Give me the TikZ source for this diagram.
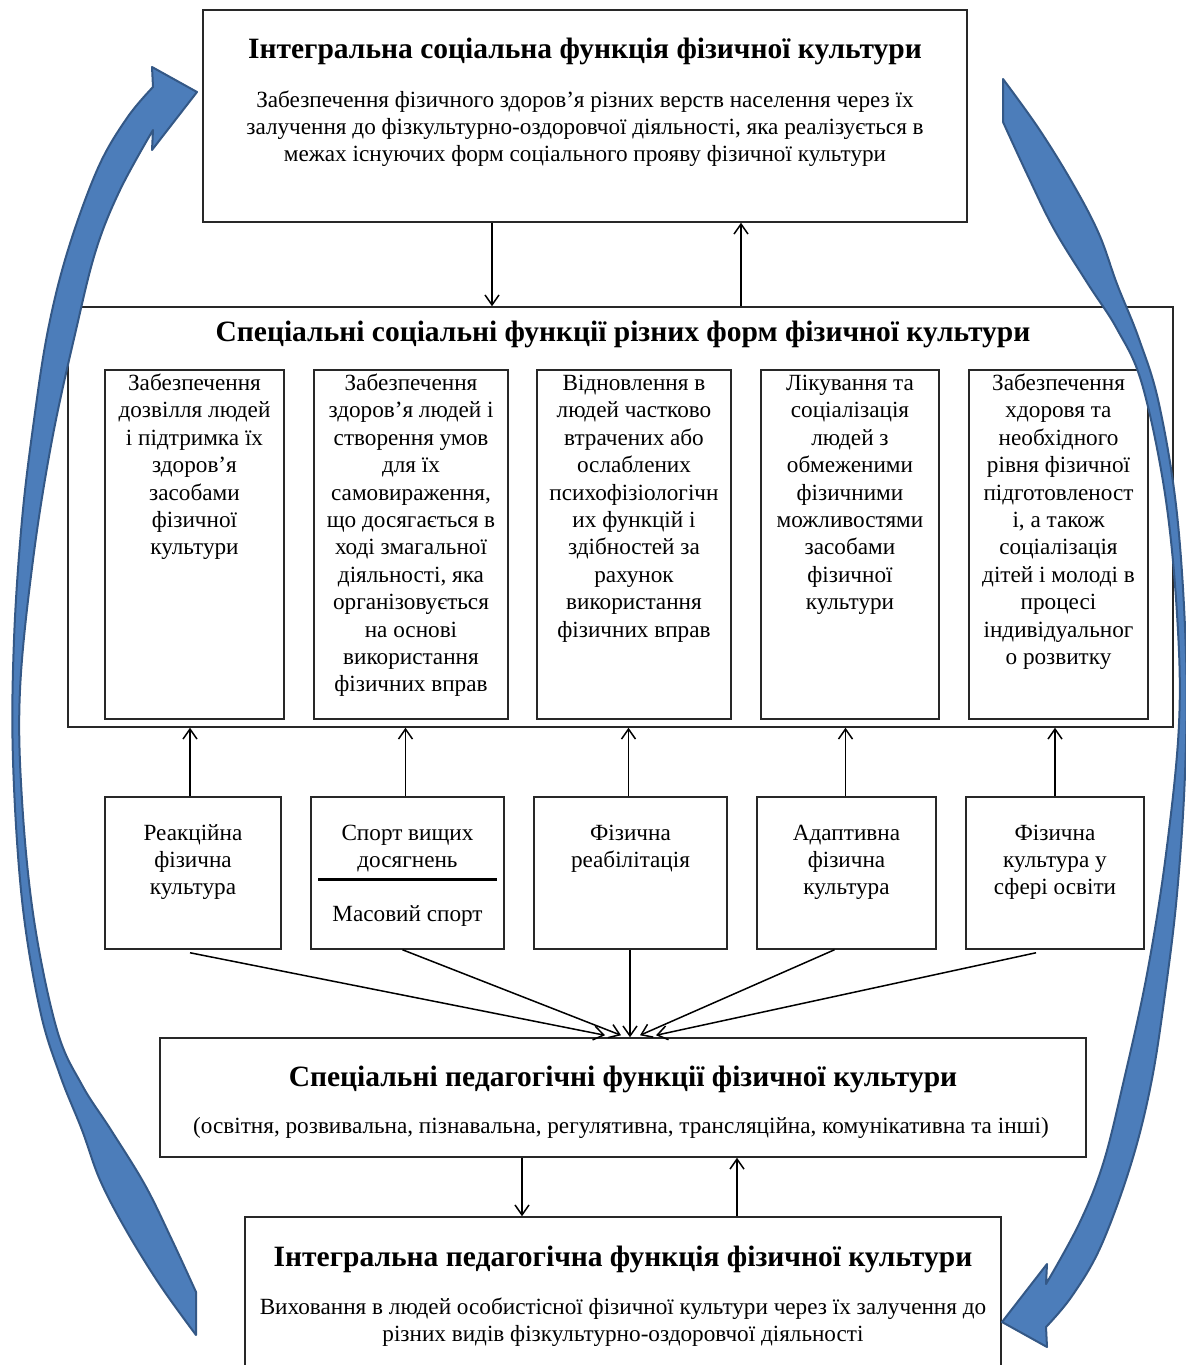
\documentclass[tikz,border=0pt]{standalone}
\usepackage{fontspec}
\setmainfont{Liberation Serif}
\usetikzlibrary{arrows.meta,calc}
\definecolor{arrfill}{RGB}{76,125,186}
\definecolor{arredge}{RGB}{52,88,134}
\definecolor{boxline}{RGB}{40,40,40}
\newcommand\CurvArrowShape{%
  plot[smooth,tension=0.6] coordinates {(196,1335) (160,1285) (126,1230) (100,1180) (82,1130) (60,1075) (40,1010) (22,900) (13,760) (14,640) (22,520) (34,420) (48,330) (68,250) (98,168) (127,118) (153,87)}
  -- (152,67) -- (197,92) -- (152,150) --
  plot[smooth,tension=0.6] coordinates {(153,130) (120,190) (96,250) (76,330) (52,440) (33,560) (20,690) (22,800) (34,920) (57,1030) (82,1085) (111,1130) (145,1185) (172,1240) (196,1292)}
  -- cycle}
\begin{document}
\begin{tikzpicture}[x=0.5pt,y=-0.5pt,
  box/.style={draw=boxline,line width=0.75pt,inner sep=0pt},
  txt/.style={font=\fontsize{11.6}{13.7}\selectfont,align=center,inner sep=0pt},
  ttl/.style={font=\fontsize{14.75}{17}\selectfont\bfseries,inner sep=0pt},
  arr/.style={draw=black,line width=0.75pt,-{Straight Barb[length=5pt,width=7pt]}},
  blue arrow/.style={fill=arrfill,draw=arredge,line width=1pt,line join=round}]
\useasboundingbox (0,0) rectangle (1186,1365);

% ---- top box
\node[box,minimum width=382pt,minimum height=106pt] (top) at (585,116) {};
\node[ttl,anchor=base] (toptitle) at (585,58) {Інтегральна соціальна функція фізичної культури};
\node[txt,anchor=north] (topbody) at (585,87.5) {\strut Забезпечення фізичного здоров’я різних верств населення через їх\\
залучення до фізкультурно-оздоровчої діяльності, яка реалізується в\\
межах існуючих форм соціального прояву фізичної культури};

% ---- middle big box
\node[box,minimum width=552.5pt,minimum height=210pt] (mid) at (620.5,517) {};
\node[ttl,anchor=base] (midtitle) at (623,341) {Спеціальні соціальні функції різних форм фізичної культури};

\node[box,minimum width=89.5pt,minimum height=174.5pt] (i1) at (194.5,544.5) {};
\node[box,minimum width=97pt,minimum height=174.5pt] (i2) at (411,544.5) {};
\node[box,minimum width=97pt,minimum height=174.5pt] (i3) at (634,544.5) {};
\node[box,minimum width=89pt,minimum height=174.5pt] (i4) at (850,544.5) {};
\node[box,minimum width=89.5pt,minimum height=174.5pt] (i5) at (1058.5,544.5) {};

\node[txt,anchor=north] (i1t) at (194.5,371) {\strut Забезпечення\\дозвілля людей\\і підтримка їх\\здоров’я\\засобами\\фізичної\\культури};
\node[txt,anchor=north] (i2t) at (411,371) {\strut Забезпечення\\здоров’я людей і\\створення умов\\для їх\\самовираження,\\що досягається в\\ході змагальної\\діяльності, яка\\організовується\\на основі\\використання\\фізичних вправ};
\node[txt,anchor=north] (i3t) at (634,371) {\strut Відновлення в\\людей частково\\втрачених або\\ослаблених\\психофізіологічн\\их функцій і\\здібностей за\\рахунок\\використання\\фізичних вправ};
\node[txt,anchor=north] (i4t) at (850,371) {\strut Лікування та\\соціалізація\\людей з\\обмеженими\\фізичними\\можливостями\\засобами\\фізичної\\культури};
\node[txt,anchor=north] (i5t) at (1058.5,371) {\strut Забезпечення\\хдоровя та\\необхідного\\рівня фізичної\\підготовленост\\і, а також\\соціалізація\\дітей і молоді в\\процесі\\індивідуальног\\о розвитку};

% ---- lower boxes
\node[box,minimum width=88pt,minimum height=76pt] (l1) at (193,873) {};
\node[box,minimum width=96.5pt,minimum height=76pt] (l2) at (407.5,873) {};
\node[box,minimum width=96.5pt,minimum height=76pt] (l3) at (630.5,873) {};
\node[box,minimum width=89.5pt,minimum height=76pt] (l4) at (846.5,873) {};
\node[box,minimum width=89pt,minimum height=76pt] (l5) at (1055,873) {};

\node[txt,anchor=north] (l1t) at (193,820.5) {\strut Реакційна\\фізична\\культура};
\node[txt,anchor=north] (l2t) at (407.5,820.5) {\strut Спорт вищих\\досягнень};
\node[txt,anchor=base] (l2b) at (407.5,921) {Масовий спорт};
\node[txt,anchor=north] (l3t) at (630.5,820.5) {\strut Фізична\\реабілітація};
\node[txt,anchor=north] (l4t) at (846.5,820.5) {\strut Адаптивна\\фізична\\культура};
\node[txt,anchor=north] (l5t) at (1055,820.5) {\strut Фізична\\культура у\\сфері освіти};
\draw[line width=1.5pt] ($(l2.west)+(8,6)$) -- ($(l2.east)+(-8,6)$);

% ---- pedagogical special box
\node[box,minimum width=463pt,minimum height=59.5pt] (ped) at (623,1097.5) {};
\node[ttl,anchor=base] (pedtitle) at (623,1086) {Спеціальні педагогічні функції фізичної культури};
\node[txt,anchor=base] (pedsub) at (621,1133) {(освітня, розвивальна, пізнавальна, регулятивна, трансляційна, комунікативна та інші)};

% ---- bottom box
\node[box,minimum width=378pt,minimum height=81.5pt] (bot) at (623,1298.5) {};
\node[ttl,anchor=base] (bottitle) at (623,1266) {Інтегральна педагогічна функція фізичної культури};
\node[txt,anchor=north] (botbody) at (623,1294.5) {\strut Виховання в людей особистісної фізичної культури через їх залучення до\\
різних видів фізкультурно-оздоровчої діяльності};

% ---- connectors
\coordinate (xa) at (492,0);
\coordinate (xb) at (741,0);
\coordinate (xc) at (522,0);
\coordinate (xd) at (737,0);
\draw[arr] (top.south -| xa) -- (mid.north -| xa);
\draw[arr] (mid.north -| xb) -- (top.south -| xb);
\draw[arr] (ped.south -| xc) -- (bot.north -| xc);
\draw[arr] (bot.north -| xd) -- (ped.south -| xd);

\foreach \n/\d in {1/-3,2/-2,3/-2,4/-1,5/0} {
  \draw[arr] ($(l\n.north)+(\d,0)$) -- ($(l\n.north |- mid.south)+(\d,0)$);
}

\coordinate (t1) at (605,0);
\coordinate (t2) at (621,0);
\coordinate (t3) at (630,0);
\coordinate (t4) at (640,0);
\coordinate (t5) at (656,0);
\draw[arr] ($(l1.south)+(-3,3)$) -- ($(ped.north -| t1)+(0,-2)$);
\draw[arr] ($(l2.south)+(-5,0)$) -- ($(ped.north -| t2)+(0,-2)$);
\draw[arr] (l3.south -| t3) -- (ped.north -| t3);
\draw[arr] ($(l4.south)+(-12,0)$) -- ($(ped.north -| t4)+(0,-2)$);
\draw[arr] ($(l5.south)+(-19,3)$) -- ($(ped.north -| t5)+(0,-2)$);

% ---- big blue curved arrows
\path[blue arrow] \CurvArrowShape;
\begin{scope}[rotate around={180:(599.5,707)}]
\path[blue arrow] \CurvArrowShape;
\end{scope}
\end{tikzpicture}
\end{document}
